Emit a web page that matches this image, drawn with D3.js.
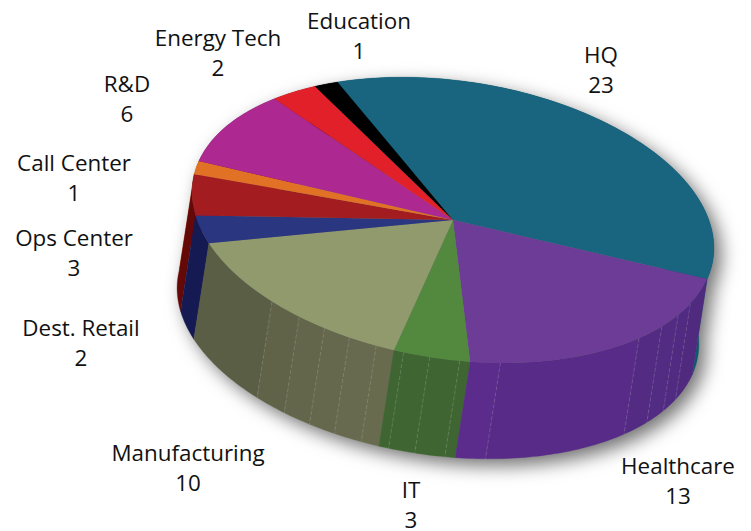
<!DOCTYPE html>
<html>
<head>
<meta charset="utf-8">
<script src="https://cdnjs.cloudflare.com/ajax/libs/d3/7.8.5/d3.min.js"></script>
<style>
  html, body { margin: 0; padding: 0; background: #fff; }
  svg { display: block; }
  text { font-family: "Open Sans", sans-serif; font-size: 22.4px; fill: #111; }
</style>
</head>
<body>
<svg width="751" height="531"></svg>
<script>
// data, clockwise from the top of the pie
const categories = ['HQ', 'Healthcare', 'IT', 'Manufacturing', 'Dest. Retail', 'Ops Center', 'Call Center', 'R&D', 'Energy Tech', 'Education'];
const counts = [23, 13, 3, 10, 2, 3, 1, 6, 2, 1];

// colours
const topColors = ['#19647f', '#6c3c96', '#53883f', '#909a6d', '#2a367f', '#a21c20', '#e17125', '#ad2890', '#e2202a', '#000000'];
const wallStart = ['#0c5a70', '#4e2a7e', '#3f6632', '#6a6c50', '#161a52', '#650808', '#a04c10', '#701a60', '#9a1018', '#000000'];
const wallEnd = ['#0c5a70', '#5c2c8c', '#3f6632', '#555a40', '#161a52', '#650808', '#a04c10', '#701a60', '#9a1018', '#000000'];

// facet seams on the side wall, degrees clockwise from the top
const seamAngles = [110, 115.8, 122.3, 130, 165, 174, 180.6, 186.4, 192.6, 198.9, 205, 211.6, 219.4];

// label places (name baseline, value baseline is lineGap lower)
const labelX = [601, 678, 411, 188, 81, 74, 74, 127, 218, 359];
const labelY = [63, 474, 498, 461, 336, 246, 171, 92, 46, 29];
const lineGap = 30;

// the pie is a tilted ellipse pushed along a slanted vector
const cx = 453, cy = 220, rx = 263, ry = 139, tilt = 8.5;
const dropX = -15, dropY = 96;
const rad = d3.scaleLinear().domain([0, 360]).range([0, 2 * Math.PI]);
const first = rad(-30.8);

const svg = d3.select('svg');

const slices = d3.pie().sort(null).startAngle(first).endAngle(first + 2 * Math.PI)(counts);

function project(a) {
    const c = Math.cos(rad(tilt)), s = Math.sin(rad(tilt));
    return [
        cx + rx * Math.sin(a) * c + ry * Math.cos(a) * s,
        cy + rx * Math.sin(a) * s - ry * Math.cos(a) * c
    ];
}

const line = d3.line();

// one strip of wall between two angles
function wallPath(a0, a1) {
    const n = Math.max(2, Math.ceil((a1 - a0) / rad(1)));
    const upper = d3.range(n + 1).map(i => project(a0 + (a1 - a0) * i / n));
    const lower = upper.slice().reverse().map(p => [p[0] + dropX, p[1] + dropY]);
    return line(upper.concat(lower)) + 'Z';
}

const pie = svg.append('g').style('filter', 'drop-shadow(7px 7px 9px rgba(0,0,0,0.55))');

// facets, back ones first
const seams = seamAngles.map(d => rad(d));
let facets = [];
slices.forEach((d, i) => {
    const cuts = [d.startAngle].concat(seams.filter(a => a > d.startAngle && a < d.endAngle), [d.endAngle]);
    const shade = d3.interpolateRgb(wallStart[i], wallEnd[i]);
    d3.pairs(cuts).forEach(p => {
        const mid = (p[0] + p[1]) / 2;
        facets.push({ a0: p[0], a1: p[1], fill: shade((mid - d.startAngle) / (d.endAngle - d.startAngle)), y: project(mid)[1] });
    });
});
facets.sort((a, b) => a.y - b.y);

pie.selectAll('path.wall').data(facets).join('path')
    .attr('class', 'wall')
    .attr('d', d => wallPath(d.a0, d.a1))
    .attr('fill', d => d.fill)
    .attr('stroke', d => d.fill)
    .attr('stroke-width', 0.3);

// faint seams
pie.selectAll('line.seam').data(seams).join('line')
    .attr('class', 'seam')
    .attr('x1', d => project(d)[0])
    .attr('y1', d => project(d)[1])
    .attr('x2', d => project(d)[0] + dropX)
    .attr('y2', d => project(d)[1] + dropY)
    .attr('stroke', '#fff')
    .attr('stroke-opacity', 0.22)
    .attr('stroke-width', 0.7)
    .attr('stroke-dasharray', '4 2');

// top face
const arc = d3.arc().innerRadius(0).outerRadius(1);
pie.append('g')
    .attr('transform', `translate(${cx},${cy}) rotate(${tilt}) scale(${rx},${ry})`)
    .selectAll('path').data(slices).join('path')
    .attr('d', arc)
    .attr('fill', (d, i) => topColors[i]);

// labels
const labels = svg.selectAll('g.label').data(categories).join('g').attr('class', 'label');
labels.append('text')
    .attr('text-anchor', 'middle')
    .attr('x', (d, i) => labelX[i])
    .attr('y', (d, i) => labelY[i])
    .text(d => d);
labels.append('text')
    .attr('text-anchor', 'middle')
    .attr('x', (d, i) => labelX[i])
    .attr('y', (d, i) => labelY[i] + lineGap)
    .text((d, i) => counts[i]);
</script>
</body>
</html>
